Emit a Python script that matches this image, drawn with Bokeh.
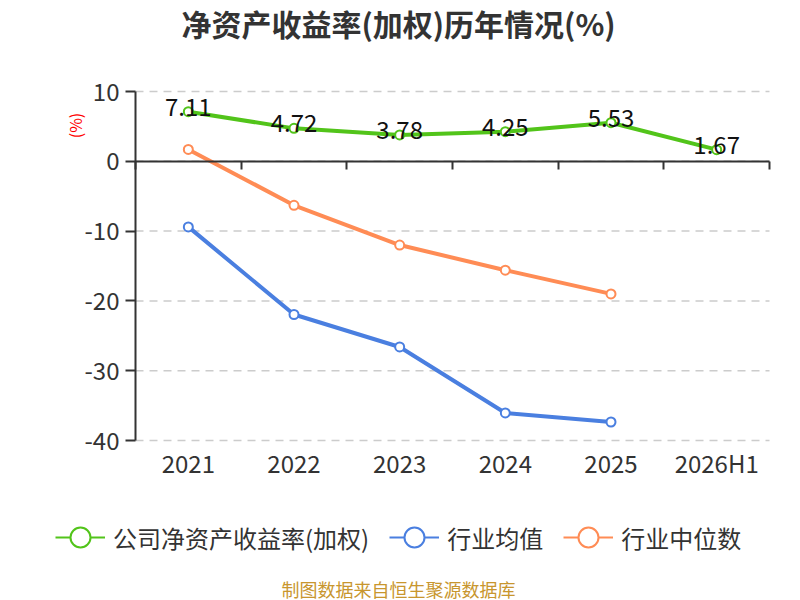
import math
from bokeh.plotting import figure
from bokeh.models import (Range1d, LinearAxis, FixedTicker, Label,
                          Legend, LegendItem, ColumnDataSource)
from bokeh.core.properties import value
from bokeh.embed import file_html
from bokeh.resources import INLINE

# ---------------- data ----------------
categories = ["2021", "2022", "2023", "2024", "2025", "2026H1"]
company_roe = [7.11, 4.72, 3.78, 4.25, 5.53, 1.67]
industry_mean = [-9.4, -21.95, -26.6, -36.05, -37.35]
industry_median = [1.7, -6.3, -12.0, -15.6, -19.0]
y_ticks = [-40, -30, -20, -10, 0, 10]
series_names = ["公司净资产收益率(加权)", "行业均值", "行业中位数"]
title_text = "净资产收益率(加权)历年情况(%)"
unit_text = "(%)"
source_text = "制图数据来自恒生聚源数据库"

FONT = "Noto Sans CJK SC"
GREEN = "#52c41a"
BLUE = "#4a7fe0"
ORANGE = "#ff8c55"
AXIS = "#333333"
COLORS = [GREEN, BLUE, ORANGE]

# ---------------- layout geometry (pixels of the 800x600 page) ----------------
W, H = 800, 600
PLOT_L, PLOT_R, PLOT_T, PLOT_B = 135, 769, 91, 440
ncat = len(categories)
y_min, y_max = min(y_ticks), max(y_ticks)
ux = (PLOT_R - PLOT_L) / ncat          # pixels per category slot
uy = (PLOT_B - PLOT_T) / (y_max - y_min)  # pixels per percent


def px(xp):
    return (xp - PLOT_L) / ux


def py(yp):
    return y_max - (yp - PLOT_T) / uy


centers = [i + 0.5 for i in range(ncat)]

p = figure(width=W, height=H, output_backend="svg", toolbar_location=None,
           x_range=Range1d(px(0), px(W)), y_range=Range1d(py(H), py(0)),
           x_axis_type=None, y_axis_type=None, min_border=0)
p.outline_line_color = None
p.background_fill_color = "white"
p.border_fill_color = "white"

# dashed horizontal grid lines spanning the category area
p.segment(x0=[0] * len(y_ticks), x1=[ncat] * len(y_ticks), y0=y_ticks, y1=y_ticks,
          line_color="#cccccc", line_dash="8 6", line_width=1.5, level="underlay")

# y axis
yaxis = LinearAxis(fixed_location=0, bounds=(y_min, y_max),
                   ticker=FixedTicker(ticks=y_ticks),
                   major_label_overrides={t: str(t) for t in y_ticks},
                   axis_line_color=AXIS, axis_line_width=2,
                   major_tick_line_color=AXIS, major_tick_line_width=2,
                   major_tick_in=0, major_tick_out=10,
                   minor_tick_line_color=None,
                   major_label_text_font=FONT, major_label_text_font_size="24px",
                   major_label_text_color=AXIS, major_label_standoff=6)
p.add_layout(yaxis, "left")

# zero line axis with category-boundary ticks
bounds = list(range(ncat + 1))
zero_axis = LinearAxis(fixed_location=0, bounds=(0, ncat),
                       ticker=FixedTicker(ticks=bounds),
                       major_label_overrides={b: "" for b in bounds},
                       major_label_standoff=0,
                       axis_line_color=AXIS, axis_line_width=2,
                       major_tick_line_color=AXIS, major_tick_line_width=2,
                       major_tick_in=0, major_tick_out=8,
                       minor_tick_line_color=None)
p.add_layout(zero_axis, "below")

# category labels under the bottom grid line
cat_axis = LinearAxis(fixed_location=y_min, bounds=(0, ncat),
                      ticker=FixedTicker(ticks=centers),
                      major_label_overrides={c: lab for c, lab in zip(centers, categories)},
                      axis_line_color=None, major_tick_line_color=None,
                      minor_tick_line_color=None, major_tick_in=0, major_tick_out=0,
                      major_label_text_font=FONT, major_label_text_font_size="24px",
                      major_label_text_color=AXIS, major_label_standoff=4)
p.add_layout(cat_axis, "below")

# series
src_c = ColumnDataSource(dict(x=centers[:len(company_roe)], y=company_roe,
                              label=[f"{v:.2f}" for v in company_roe]))
src_m = ColumnDataSource(dict(x=centers[:len(industry_mean)], y=industry_mean))
src_d = ColumnDataSource(dict(x=centers[:len(industry_median)], y=industry_median))

for src, col in zip([src_c, src_m, src_d], COLORS):
    p.line("x", "y", source=src, line_color=col, line_width=4)
    p.scatter("x", "y", source=src, marker="circle", size=9,
              fill_color="white", line_color=col, line_width=2)

p.text("x", "y", text="label", source=src_c, text_font=value(FONT),
       text_font_size="24px", text_color="#111111", text_align="center",
       text_baseline="middle", y_offset=-5)

# legend (legend-only glyph renderers, no visible data)
nan = float("nan")
items = []
for name, col in zip(series_names, COLORS):
    lr = p.line(x=[nan], y=[nan], line_color=col, line_width=2)
    sr = p.scatter(x=[nan], y=[nan], marker="circle", size=9,
                   fill_color="white", line_color=col, line_width=2)
    items.append(LegendItem(label=name, renderers=[lr, sr]))

legend = Legend(items=items, orientation="horizontal", location=(55, H - 565),
                glyph_width=50, glyph_height=56, label_standoff=8, spacing=20,
                padding=0, margin=0, border_line_color=None,
                background_fill_alpha=0,
                label_text_font=FONT, label_text_font_size="24px",
                label_text_color=AXIS, label_height=56)
p.add_layout(legend, "center")

# texts
p.add_layout(Label(x=px(398), y=py(22), text=title_text, text_font=FONT,
                   text_font_size="30px", text_font_style="bold",
                   text_color=AXIS, text_align="center", text_baseline="middle"))
p.add_layout(Label(x=px(74), y=py(125), text=unit_text, text_font=FONT,
                   text_font_size="16px", text_color="red", angle=math.pi / 2,
                   text_align="center", text_baseline="middle"))
p.add_layout(Label(x=px(398), y=py(588), text=source_text, text_font=FONT,
                   text_font_size="18px", text_color="#c8962e",
                   text_align="center", text_baseline="middle"))

open("out.html", "w").write(file_html(p, INLINE))
